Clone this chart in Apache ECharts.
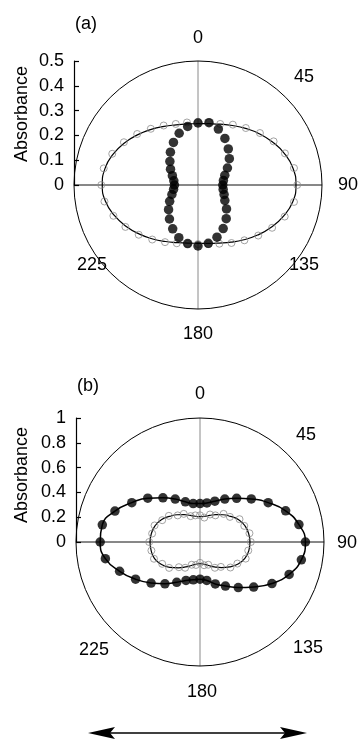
<!DOCTYPE html>
<html><head><meta charset="utf-8">
<script src="https://cdn.jsdelivr.net/npm/echarts@6/dist/echarts.min.js"></script>
<style>html,body{margin:0;padding:0;background:#fff}#c{width:362px;height:740px}</style>
</head><body><div id="c"></div>
<script>
// ---------- data ----------
const angles = [0,10,20,30,40,50,60,70,80,90,100,110,120,130,140,150,160,170,
                180,190,200,210,220,230,240,250,260,270,280,290,300,310,320,330,340,350];
const ticksA = [0, 0.1, 0.2, 0.3, 0.4, 0.5];
const ticksB = [0, 0.2, 0.4, 0.6, 0.8, 1];
const angleLabels = ['0', '45', '90', '135', '180', '225'];
const panelLabels = ['(a)', '(b)'];
const axisTitle = 'Absorbance';

// panel (a)
const aOpen = [0.255,0.256,0.262,0.281,0.300,0.326,0.352,0.373,0.393,0.400,0.393,0.372,0.345,0.317,0.291,0.270,0.252,0.242,
               0.238,0.241,0.250,0.266,0.287,0.312,0.338,0.363,0.383,0.390,0.386,0.368,0.345,0.320,0.296,0.277,0.262,0.256];
const aOpenFit = [0.248,0.251,0.261,0.277,0.298,0.322,0.347,0.371,0.389,0.395,0.388,0.367,0.341,0.314,0.288,0.266,0.249,0.239,
                  0.235,0.238,0.247,0.263,0.284,0.308,0.334,0.359,0.379,0.386,0.381,0.364,0.341,0.316,0.293,0.273,0.258,0.250];
const aFilled = [0.250,0.255,0.240,0.217,0.190,0.165,0.137,0.115,0.104,0.100,0.103,0.112,0.125,0.150,0.177,0.203,0.224,0.239,
                 0.246,0.240,0.226,0.204,0.179,0.155,0.132,0.112,0.100,0.095,0.099,0.110,0.128,0.148,0.173,0.198,0.222,0.240];

// panel (b)
const bOpen = [0.215,0.200,0.236,0.248,0.296,0.315,0.368,0.380,0.405,0.410,0.395,0.392,0.348,0.320,0.262,0.240,0.195,0.190,
               0.168,0.188,0.195,0.240,0.265,0.325,0.352,0.395,0.398,0.410,0.392,0.390,0.352,0.328,0.280,0.262,0.222,0.218];
const bOpenFit = [0.205,0.211,0.228,0.255,0.287,0.321,0.360,0.385,0.398,0.403,0.400,0.385,0.355,0.312,0.270,0.232,0.202,0.182,
                  0.175,0.182,0.202,0.232,0.272,0.318,0.360,0.390,0.400,0.403,0.398,0.385,0.360,0.321,0.287,0.255,0.228,0.211];
const bFilled = [0.310,0.320,0.350,0.400,0.460,0.540,0.635,0.735,0.810,0.850,0.830,0.765,0.670,0.565,0.480,0.410,0.360,0.315,
                 0.300,0.310,0.330,0.375,0.440,0.515,0.600,0.690,0.775,0.805,0.800,0.730,0.635,0.550,0.465,0.400,0.345,0.315];

// ---------- layout ----------
const FONT = '"Liberation Sans", Arial, Helvetica, sans-serif';
const FS = 18;
const P = [
  {cx: 198, cy: 185, r: 124, axisX: 74, ticks: ticksA, titleY: 114},
  {cx: 200, cy: 542, r: 124, axisX: 76, ticks: ticksB, titleY: 475}
];
// offsets (from each polar centre) of the labels 0, 45, 90, 135, 180, 225
const labelOffsets = [
  [[0,-147],[106,-108],[150,0],[106,80],[0,149],[-106,80]],
  [[0,-148],[106,-107],[147,1],[108,106],[2,150],[-106,108]]
];
const panelOffsets = [[-112,-161],[-112,-156]];
const titleX = 22;

function pts(vals) { return vals.map((v, i) => [v, angles[i]]); }
function closed(vals) { return pts(vals).concat([[vals[0], 360]]); }

const chart = echarts.init(document.getElementById('c'), null, {renderer: 'canvas'});

const polar = P.map(p => ({center: [p.cx, p.cy], radius: p.r}));
const angleAxis = P.map((p, i) => ({
  polarIndex: i, type: 'value', min: 0, max: 360, interval: 90,
  startAngle: 90, clockwise: true,
  axisLine: {show: true, lineStyle: {color: '#000', width: 1}},
  axisTick: {show: false}, axisLabel: {show: false},
  splitLine: {show: true, lineStyle: {color: ['#8a8a8a', '#111', '#8a8a8a', '#111'], width: 1}}
}));
const radiusAxis = P.map((p, i) => ({
  polarIndex: i, type: 'value', min: p.ticks[0], max: p.ticks[p.ticks.length - 1],
  axisLine: {show: false}, axisTick: {show: false}, axisLabel: {show: false}, splitLine: {show: false}
}));
const grid = P.map(p => ({left: p.axisX, top: p.cy - p.r, width: 1, height: p.r}));
const xAxis = P.map((p, i) => ({gridIndex: i, type: 'value', show: false}));
const yAxis = P.map((p, i) => ({
  gridIndex: i, type: 'value',
  min: p.ticks[0], max: p.ticks[p.ticks.length - 1],
  interval: +(p.ticks[1] - p.ticks[0]).toFixed(3),
  axisLine: {show: true, lineStyle: {color: '#000', width: 1.2}},
  axisTick: {show: true, inside: true, length: 5, lineStyle: {color: '#000', width: 1.2}},
  axisLabel: {fontSize: FS, color: '#000', fontFamily: FONT, margin: 10},
  splitLine: {show: false}
}));

const hollow = {color: 'rgba(255,255,255,0)', borderColor: '#8c8c8c', borderWidth: 1};
const series = [
  {type: 'line', coordinateSystem: 'polar', polarIndex: 0, data: closed(aOpenFit), smooth: true,
   showSymbol: false, lineStyle: {color: '#000', width: 1.2}, silent: true, z: 2},
  {type: 'scatter', coordinateSystem: 'polar', polarIndex: 0, data: pts(aOpen), symbol: 'circle',
   symbolSize: 7, itemStyle: hollow, z: 3},
  {type: 'scatter', coordinateSystem: 'polar', polarIndex: 0, data: pts(aFilled), symbol: 'circle',
   symbolSize: 9.5, itemStyle: {color: '#000'}, z: 4},

  {type: 'line', coordinateSystem: 'polar', polarIndex: 1, data: closed(bOpenFit), smooth: true,
   showSymbol: false, lineStyle: {color: '#000', width: 1.2}, silent: true, z: 2},
  {type: 'scatter', coordinateSystem: 'polar', polarIndex: 1, data: pts(bOpen), symbol: 'circle',
   symbolSize: 7, itemStyle: hollow, z: 3},
  {type: 'line', coordinateSystem: 'polar', polarIndex: 1, data: closed(bFilled), smooth: true,
   showSymbol: false, lineStyle: {color: '#000', width: 1.5}, silent: true, z: 2},
  {type: 'scatter', coordinateSystem: 'polar', polarIndex: 1, data: pts(bFilled), symbol: 'circle',
   symbolSize: 9.5, itemStyle: {color: '#000'}, z: 4}
];

const graphic = [];
P.forEach((p, i) => {
  angleLabels.forEach((t, k) => {
    graphic.push({type: 'text', x: p.cx + labelOffsets[i][k][0], y: p.cy + labelOffsets[i][k][1],
      style: {text: t, font: FS + 'px ' + FONT, fill: '#000', align: 'center', verticalAlign: 'middle'}});
  });
  graphic.push({type: 'text', x: p.cx + panelOffsets[i][0], y: p.cy + panelOffsets[i][1],
    style: {text: panelLabels[i], font: FS + 'px ' + FONT, fill: '#000', align: 'center', verticalAlign: 'middle'}});
  graphic.push({type: 'text', x: titleX, y: p.titleY, rotation: Math.PI / 2,
    style: {text: axisTitle, font: FS + 'px ' + FONT, fill: '#000', align: 'center', verticalAlign: 'middle'}});
});
// double-headed arrow (polarisation direction)
const ay = 733, axL = 88, axR = 307;
graphic.push({type: 'line', shape: {x1: axL + 20, y1: ay, x2: axR - 20, y2: ay}, style: {stroke: '#000', lineWidth: 1.5}});
graphic.push({type: 'polygon', shape: {points: [[axL, ay], [axL + 27, ay - 6], [axL + 22, ay], [axL + 27, ay + 6]]}, style: {fill: '#000'}});
graphic.push({type: 'polygon', shape: {points: [[axR, ay], [axR - 27, ay - 6], [axR - 22, ay], [axR - 27, ay + 6]]}, style: {fill: '#000'}});

chart.setOption({
  animation: false,
  backgroundColor: '#fff',
  polar, angleAxis, radiusAxis, grid, xAxis, yAxis, series, graphic
});
</script></body></html>
